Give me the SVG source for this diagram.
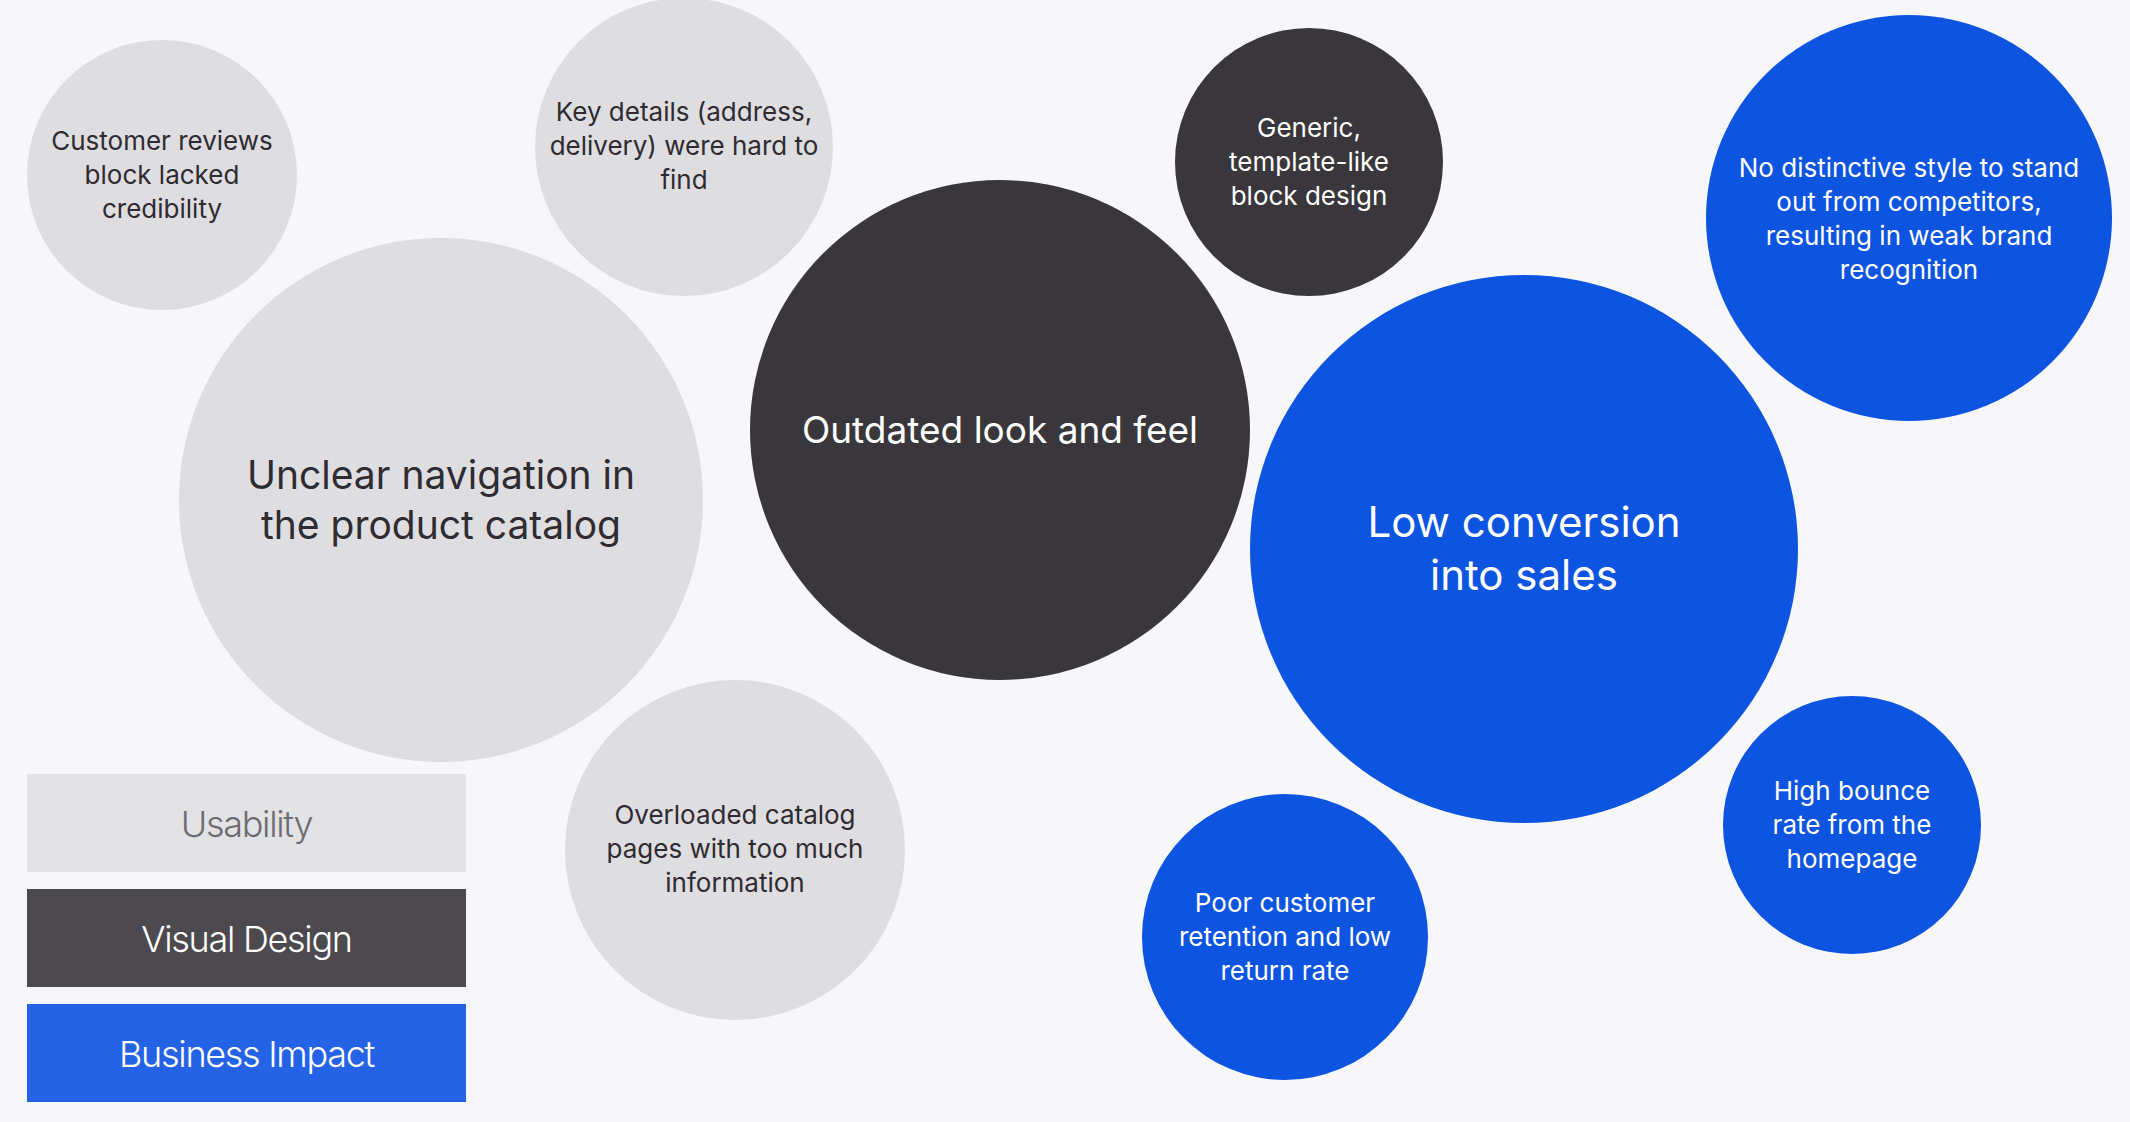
<svg xmlns="http://www.w3.org/2000/svg" width="2130" height="1122" viewBox="0 0 2130 1122">
<style>
text{font-family:Inter,"Noto Sans","Liberation Sans",sans-serif;text-anchor:middle}
.u{fill:#dedde0}.v{fill:#39373b}.b{fill:#0d55e0}
.tu{fill:#2e2c31}.tw{fill:#ffffff}
.s{font-size:26px}.m{font-size:39px}.o{font-size:37px}.l{font-size:42px}
.lg{font-size:36px;font-weight:300;letter-spacing:-1.3px}
</style>
<rect width="2130" height="1122" fill="#f7f6f9"/>
<g id="connectors"/>
<g id="n-reviews"><circle class="u" cx="162" cy="175" r="135"/>
<text class="s tu"><tspan x="162" y="150">Customer reviews</tspan><tspan x="162" y="184">block lacked</tspan><tspan x="162" y="218">credibility</tspan></text></g>
<g id="n-keydetails"><circle class="u" cx="684" cy="147" r="149"/>
<text class="s tu"><tspan x="684" y="121">Key details (address,</tspan><tspan x="684" y="155">delivery) were hard to</tspan><tspan x="684" y="189">find</tspan></text></g>
<g id="n-navigation"><circle class="u" cx="441" cy="500" r="262"/>
<text class="m tu"><tspan x="441" y="489">Unclear navigation in</tspan><tspan x="441" y="539">the product catalog</tspan></text></g>
<g id="n-outdated"><circle class="v" cx="1000" cy="430" r="250"/>
<text class="o tw" x="1000" y="443">Outdated look and feel</text></g>
<g id="n-generic"><circle class="v" cx="1309" cy="162" r="134"/>
<text class="s tw"><tspan x="1309" y="137">Generic,</tspan><tspan x="1309" y="171">template-like</tspan><tspan x="1309" y="205">block design</tspan></text></g>
<g id="n-conversion"><circle class="b" cx="1524" cy="549" r="274"/>
<text class="l tw"><tspan x="1524" y="537">Low conversion</tspan><tspan x="1524" y="590">into sales</tspan></text></g>
<g id="n-distinctive"><circle class="b" cx="1909" cy="218" r="203"/>
<text class="s tw"><tspan x="1909" y="177">No distinctive style to stand</tspan><tspan x="1909" y="211">out from competitors,</tspan><tspan x="1909" y="245">resulting in weak brand</tspan><tspan x="1909" y="279">recognition</tspan></text></g>
<g id="n-bounce"><circle class="b" cx="1852" cy="825" r="129"/>
<text class="s tw"><tspan x="1852" y="800">High bounce</tspan><tspan x="1852" y="834">rate from the</tspan><tspan x="1852" y="868">homepage</tspan></text></g>
<g id="n-retention"><circle class="b" cx="1285" cy="937" r="143"/>
<text class="s tw"><tspan x="1285" y="912">Poor customer</tspan><tspan x="1285" y="946">retention and low</tspan><tspan x="1285" y="980">return rate</tspan></text></g>
<g id="n-overloaded"><circle class="u" cx="735" cy="850" r="170"/>
<text class="s tu"><tspan x="735" y="824">Overloaded catalog</tspan><tspan x="735" y="858">pages with too much</tspan><tspan x="735" y="892">information</tspan></text></g>
<g id="legend-usability"><rect x="27" y="774" width="439" height="98" fill="#e3e2e5"/>
<text class="lg" x="246.5" y="837" fill="#6d6c70">Usability</text></g>
<g id="legend-visual"><rect x="27" y="889" width="439" height="98" fill="#4c4a4e"/>
<text class="lg" x="246.5" y="952" fill="#ffffff">Visual Design</text></g>
<g id="legend-business"><rect x="27" y="1004" width="439" height="98" fill="#2563e6"/>
<text class="lg" x="246.5" y="1067" fill="#ffffff">Business Impact</text></g>
</svg>
